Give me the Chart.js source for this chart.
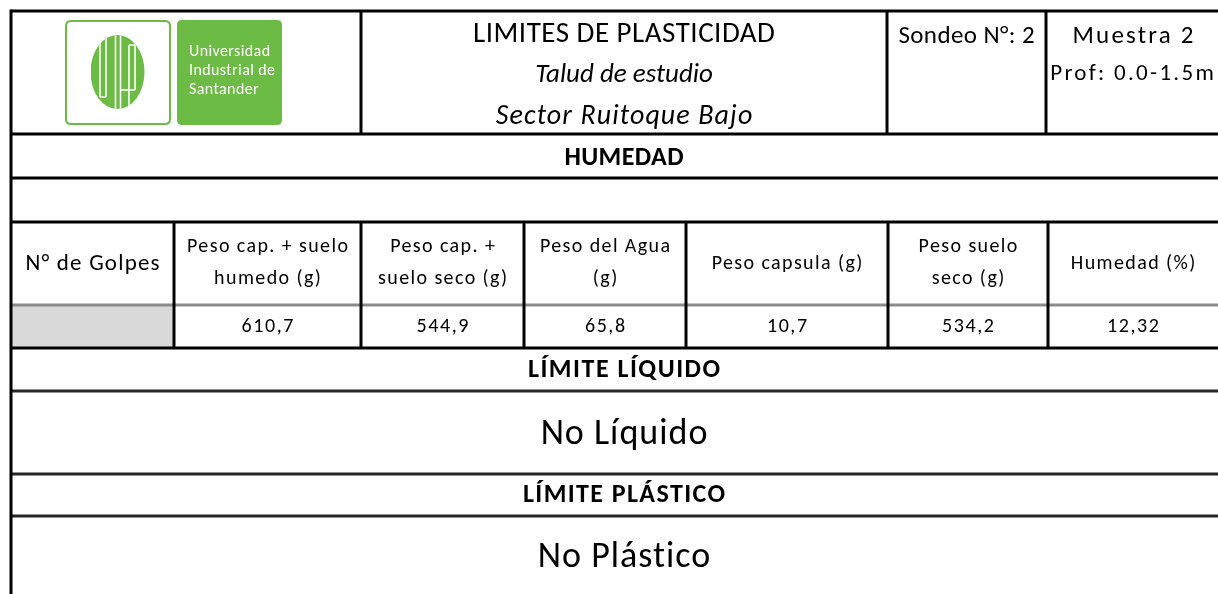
<!DOCTYPE html>
<html>
<head>
<meta charset="utf-8">
<script src="https://cdn.jsdelivr.net/npm/chart.js@4/dist/chart.umd.min.js"></script>
<style>
html,body{margin:0;padding:0;background:#fff;}
#wrap{width:1218px;height:594px;}
</style>
</head>
<body>
<div id="wrap"><canvas id="c" width="1218" height="594"></canvas></div>
<script>
// ---- data ----
const titleLines = ['LIMITES DE PLASTICIDAD', 'Talud de estudio', 'Sector Ruitoque Bajo'];
const sondeoText = 'Sondeo N°: 2';
const muestraLines = ['Muestra 2', 'Prof: 0.0-1.5m'];
const logoLines = ['Universidad', 'Industrial de', 'Santander'];
const sectionTitles = ['HUMEDAD', 'LÍMITE LÍQUIDO', 'LÍMITE PLÁSTICO'];
const resultTexts = ['No Líquido', 'No Plástico'];
const columnHeaders = [
  ['N° de Golpes'],
  ['Peso cap. + suelo', 'humedo (g)'],
  ['Peso cap. +', 'suelo seco (g)'],
  ['Peso del Agua', '(g)'],
  ['Peso capsula (g)'],
  ['Peso suelo', 'seco (g)'],
  ['Humedad (%)']
];
const humedadValues = [null, 610.7, 544.9, 65.8, 10.7, 534.2, 12.32];
const valueDecimals = [0, 1, 1, 1, 1, 1, 2];

// grid (in table units = page pixels, mapped through the chart's scales)
const headerEdges = [11, 361, 887, 1046, 1230];
const columnEdges = [11, 174, 361, 524, 686, 888, 1048, 1230];
const rowEdges = [11, 134, 178, 222, 305, 348, 391, 474, 516, 600];

const FONT = 'Carlito, Calibri, Lato, "Liberation Sans", sans-serif';

function fmt(v, d) { return v.toFixed(d).replace('.', ','); }

const tablePlugin = {
  id: 'tablePlugin',
  afterDraw(chart) {
    const ctx = chart.ctx;
    const xs = chart.scales.x, ys = chart.scales.y;
    const X = v => xs.getPixelForValue(v);
    const Y = v => ys.getPixelForValue(v);
    const left = X(columnEdges[0]), right = X(columnEdges[columnEdges.length - 1]);
    const midX = X(624);
    ctx.save();

    function text(str, x, y, font, spacing) {
      ctx.font = font;
      ctx.letterSpacing = (spacing || 0) + 'px';
      ctx.fillText(str, x + (ctx.textAlign === 'center' ? (spacing || 0) / 2 : 0), y);
      ctx.letterSpacing = '0px';
    }

    // gray cell (N° de Golpes data)
    ctx.fillStyle = '#d9d9d9';
    ctx.fillRect(X(columnEdges[0]), Y(rowEdges[4]), X(columnEdges[1]) - X(columnEdges[0]), Y(rowEdges[5]) - Y(rowEdges[4]));

    function hLine(y, color, w) {
      ctx.strokeStyle = color; ctx.lineWidth = w;
      ctx.beginPath(); ctx.moveTo(left, Y(y)); ctx.lineTo(right, Y(y)); ctx.stroke();
    }
    function vLine(x, y0, y1, color, w) {
      ctx.strokeStyle = color; ctx.lineWidth = w;
      ctx.beginPath(); ctx.moveTo(X(x), Y(y0)); ctx.lineTo(X(x), Y(y1)); ctx.stroke();
    }

    // horizontal lines
    const hColors = ['#000', '#000', '#000', '#000', '#8c8c8c', '#000', '#262626', '#262626', '#262626'];
    for (let i = 0; i < rowEdges.length - 1; i++) hLine(rowEdges[i], hColors[i], 3);
    // vertical lines
    vLine(columnEdges[0], rowEdges[0] - 1.5, rowEdges[rowEdges.length - 1], '#000', 3);
    for (let i = 1; i < headerEdges.length - 1; i++) vLine(headerEdges[i], rowEdges[0], rowEdges[1], '#000', 3);
    for (let i = 1; i < columnEdges.length - 1; i++) vLine(columnEdges[i], rowEdges[3], rowEdges[5], '#000', 3);

    // ---- logo ----
    const green = '#6cbb44';
    function rr(x, y, w, h, r) {
      ctx.beginPath();
      ctx.moveTo(x + r, y); ctx.lineTo(x + w - r, y); ctx.quadraticCurveTo(x + w, y, x + w, y + r);
      ctx.lineTo(x + w, y + h - r); ctx.quadraticCurveTo(x + w, y + h, x + w - r, y + h);
      ctx.lineTo(x + r, y + h); ctx.quadraticCurveTo(x, y + h, x, y + h - r);
      ctx.lineTo(x, y + r); ctx.quadraticCurveTo(x, y, x + r, y); ctx.closePath();
    }
    rr(X(66), Y(21), X(170) - X(66), Y(124) - Y(21), 5);
    ctx.strokeStyle = green; ctx.lineWidth = 2; ctx.stroke();
    rr(X(177), Y(20), X(282) - X(177), Y(125) - Y(20), 5);
    ctx.fillStyle = green; ctx.fill();
    // emblem
    ctx.save();
    ctx.beginPath();
    ctx.ellipse(X(117.5), Y(72), 27, 37, 0, 0, Math.PI * 2);
    ctx.clip();
    ctx.fillStyle = green;
    ctx.fillRect(X(91), Y(35), 54, 74);
    ctx.strokeStyle = '#fff'; ctx.lineWidth = 1.6;
    const stripes = [[100, 37, 97], [106, 30, 97], [115.5, 30, 112], [120.5, 30, 112], [129, 45, 112], [135, 30, 90]];
    stripes.forEach(s => { ctx.beginPath(); ctx.moveTo(X(s[0]), Y(s[1])); ctx.lineTo(X(s[0]), Y(s[2])); ctx.stroke(); });
    ctx.beginPath(); ctx.moveTo(X(100), Y(97)); ctx.lineTo(X(106), Y(97)); ctx.stroke();
    ctx.beginPath(); ctx.moveTo(X(129), Y(45)); ctx.lineTo(X(135), Y(45)); ctx.stroke();
    ctx.beginPath(); ctx.moveTo(X(120.5), Y(90)); ctx.lineTo(X(135), Y(90)); ctx.stroke();
    ctx.restore();
    ctx.fillStyle = '#fff';
    ctx.textAlign = 'left'; ctx.textBaseline = 'middle';
    logoLines.forEach((t, i) => text(t, X(189), Y(52 + i * 19), '16px ' + FONT, 0.4));

    // ---- texts ----
    ctx.fillStyle = '#000';
    ctx.textAlign = 'center'; ctx.textBaseline = 'middle';
    const tc = X((headerEdges[1] + headerEdges[2]) / 2);
    text(titleLines[0], tc, Y(35), '29px ' + FONT, 0.5);
    text(titleLines[1], tc, Y(75), 'italic 27px ' + FONT, 0);
    text(titleLines[2], tc, Y(117), 'italic 28px ' + FONT, 1.1);
    text(sondeoText, X((headerEdges[2] + headerEdges[3]) / 2), Y(37), '25px ' + FONT, 0.4);
    text(muestraLines[0], X(1133), Y(37), '25px ' + FONT, 2.2);
    text(muestraLines[1], X(1132), Y(74), '23px ' + FONT, 2.3);

    text(sectionTitles[0], midX, Y(158), 'bold 26px ' + FONT, 0.4);
    text(sectionTitles[1], midX, Y(370), 'bold 26px ' + FONT, 1.5);
    text(sectionTitles[2], midX, Y(495), 'bold 26px ' + FONT, 1.4);
    text(resultTexts[0], midX, Y(435), '36px ' + FONT, 1);
    text(resultTexts[1], midX, Y(558), '36px ' + FONT, 1);

    // column headers + values
    for (let i = 0; i < columnHeaders.length; i++) {
      const cx = X((columnEdges[i] + Math.min(columnEdges[i + 1], 1218)) / 2);
      const lines = columnHeaders[i];
      const f = (i === 0 ? '23px ' : '20px ') + FONT;
      const sp = i === 0 ? 1.2 : 1.4;
      if (lines.length === 1) text(lines[0], cx, Y(264), f, sp);
      else { text(lines[0], cx, Y(247), f, sp); text(lines[1], cx, Y(279), f, sp); }
      if (humedadValues[i] !== null) {
        text(fmt(humedadValues[i], valueDecimals[i]), cx, Y(327), '20px ' + FONT, 1.6);
      }
    }
    ctx.restore();
  }
};

new Chart(document.getElementById('c'), {
  type: 'scatter',
  data: { datasets: [{ data: [], pointRadius: 0 }] },
  options: {
    responsive: false,
    animation: false,
    events: [],
    layout: { padding: 0 },
    plugins: { legend: { display: false }, tooltip: { enabled: false }, title: { display: false } },
    scales: {
      x: { type: 'linear', min: 0, max: 1218, display: false },
      y: { type: 'linear', min: 0, max: 594, reverse: true, display: false }
    }
  },
  plugins: [tablePlugin]
});
</script>
</body>
</html>
